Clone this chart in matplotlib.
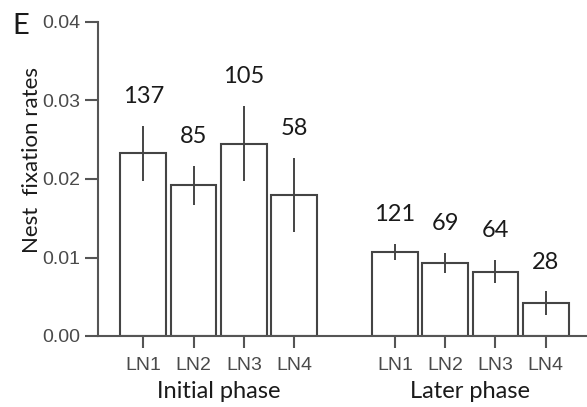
import numpy as np
import matplotlib.pyplot as plt
from matplotlib import transforms

lanes = ['LN1', 'LN2', 'LN3', 'LN4']
phases = ['Initial phase', 'Later phase']
initial_rate = [0.0233, 0.0192, 0.0245, 0.0180]
initial_err = [0.0035, 0.0025, 0.0048, 0.0047]
initial_n = [137, 85, 105, 58]
later_rate = [0.0107, 0.0093, 0.0082, 0.0042]
later_err = [0.0010, 0.0013, 0.0015, 0.0015]
later_n = [121, 69, 64, 28]

EDGE = '#444444'
AXC = '#555555'
TICKFONT = 'Liberation Sans'
TEXTFONT = 'Lato'

fig = plt.figure(figsize=(5.87, 4.07), dpi=100)
ax = fig.add_axes([98/587, 71/407, 489/587, 314/407])

x_init = np.arange(4)
x_late = np.arange(4) + 5
xs = np.concatenate([x_init, x_late])
rates = initial_rate + later_rate
errs = initial_err + later_err
counts = initial_n + later_n

ax.bar(xs, rates, width=0.91, color='white', edgecolor=EDGE, linewidth=1.5)
ax.errorbar(xs, rates, yerr=errs, fmt='none', ecolor=EDGE, elinewidth=1.4, capsize=0)
for x, r, e, n in zip(xs, rates, errs, counts):
    ax.annotate(str(n), (x, r + e), xytext=(0, 21), textcoords='offset points',
                ha='center', va='center', fontsize=17, family=TEXTFONT, color='#1a1a1a')

ax.set_xlim(-0.9, 8.82)
ax.set_ylim(0, 0.04)
ax.set_yticks([0, 0.01, 0.02, 0.03, 0.04])
ax.set_yticklabels(['0.00', '0.01', '0.02', '0.03', '0.04'])
ax.set_xticks(xs)
ax.set_xticklabels(lanes * 2)

for s in ['top', 'right']:
    ax.spines[s].set_visible(False)
for s in ['left', 'bottom']:
    ax.spines[s].set_color(AXC)
    ax.spines[s].set_linewidth(1.5)
ax.tick_params(axis='y', direction='out', length=9.5, width=1.5, color=AXC, pad=3,
               labelsize=14, labelcolor='#4a4a4a')
ax.tick_params(axis='x', direction='out', length=8.5, width=1.5, color=AXC, pad=6.5,
               labelsize=14, labelcolor='#4a4a4a')
for lab in ax.get_xticklabels() + ax.get_yticklabels():
    lab.set_family(TICKFONT)

trans = transforms.blended_transform_factory(ax.transData, ax.transAxes)
for grp, name in zip([x_init, x_late], phases):
    ax.text(grp.mean(), -0.198, name, transform=trans, ha='center', va='baseline',
            fontsize=17, family=TEXTFONT, color='#1a1a1a')

ax.set_ylabel('Nest  fixation rates', fontsize=16, family=TEXTFONT, color='#1a1a1a')
ax.yaxis.set_label_coords(-0.114, 0.56)

fig.text(12/587, 1 - 13/407, 'E', ha='left', va='top', fontsize=21, family=TEXTFONT,
         color='#1a1a1a')

fig.savefig('out.png', dpi=100)
